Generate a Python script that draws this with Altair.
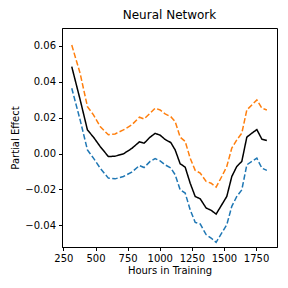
import altair as alt
import pandas as pd

hours = [315, 380, 437, 484, 536, 600, 652, 717, 782, 842, 878, 925, 964, 1003, 1042,
         1086, 1120, 1159, 1198, 1237, 1276, 1315, 1361, 1400, 1439, 1483, 1522, 1561,
         1600, 1639, 1678, 1717, 1756, 1795, 1834]
mean = [0.0483, 0.030, 0.0131, 0.0091, 0.0039, -0.0017, -0.0015, -0.0002, 0.0028, 0.0065,
        0.0057, 0.0091, 0.0112, 0.0102, 0.0078, 0.0061, 0.002, -0.0057, -0.0076, -0.0165,
        -0.0239, -0.0252, -0.0303, -0.0316, -0.0337, -0.0285, -0.0239, -0.0128, -0.0072,
        -0.0044, 0.0091, 0.0113, 0.0133, 0.008, 0.0072]
upper = [0.0603, 0.0446, 0.0261, 0.0215, 0.015, 0.0104, 0.0109, 0.0131, 0.0159, 0.0202,
         0.0192, 0.0224, 0.0252, 0.0242, 0.022, 0.0205, 0.0178, 0.0091, 0.0067, -0.0026,
         -0.0094, -0.0109, -0.0155, -0.0165, -0.0187, -0.0128, -0.0072, 0.003, 0.0076,
         0.0113, 0.0242, 0.027, 0.0298, 0.0252, 0.0242]
lower = [0.0363, 0.0187, 0.002, -0.0026, -0.0081, -0.0137, -0.0141, -0.0128, -0.0104, -0.0067,
         -0.0078, -0.0044, -0.0028, -0.0041, -0.0063, -0.0081, -0.0118, -0.0202, -0.022, -0.0313,
         -0.0383, -0.0392, -0.0451, -0.047, -0.0494, -0.0442, -0.0396, -0.0294, -0.0239,
         -0.0202, -0.0063, -0.0044, -0.0026, -0.0081, -0.0094]

rows = []
for name, vals in [("lower", lower), ("upper", upper), ("mean", mean)]:
    for i, (h, v) in enumerate(zip(hours, vals)):
        rows.append({"hours": h, "effect": v, "series": name, "order": i})
df = pd.DataFrame(rows)

minus = "replace(format(datum.value, '{f}'), '-', '\u2212')"

x = alt.X("hours:Q", scale=alt.Scale(domain=[239, 1913], nice=False, zero=False),
          axis=alt.Axis(values=[250, 500, 750, 1000, 1250, 1500, 1750], title="Hours in Training",
                        labelExpr="format(datum.value, 'd')"))
y = alt.Y("effect:Q", scale=alt.Scale(domain=[-0.052, 0.0698], nice=False, zero=False),
          axis=alt.Axis(values=[-0.04, -0.02, 0.0, 0.02, 0.04, 0.06], title="Partial Effect",
                        labelExpr=minus.format(f=".2f")))

chart = alt.Chart(df).mark_line(strokeWidth=1.5).encode(
    x=x, y=y,
    detail="series:N",
    order="order:Q",
    color=alt.Color("series:N", scale=alt.Scale(domain=["lower", "upper", "mean"],
                                                range=["#1f77b4", "#ff7f0e", "#000000"]), legend=None),
    strokeDash=alt.StrokeDash("series:N", scale=alt.Scale(domain=["lower", "upper", "mean"],
                                                          range=[[5.5, 2.4], [5.5, 2.4], [1, 0]]), legend=None),
).properties(
    width=215, height=219,
    title=alt.TitleParams("Neural Network", fontSize=12, font="DejaVu Sans", fontWeight="normal",
                          color="#000000", offset=6),
    autosize=alt.AutoSizeParams(type="none"),
    padding={"left": 54, "top": 20, "right": 3, "bottom": 33},
).configure_view(stroke="#000000", strokeWidth=1).configure_axis(
    grid=False, domainColor="#000000", tickColor="#000000", tickSize=3.5, labelPadding=3,
    labelFont="DejaVu Sans", labelFontSize=10, labelColor="#000000",
    titleFont="DejaVu Sans", titleFontSize=10, titleFontWeight="normal", titleColor="#000000",
).configure_axisX(titlePadding=2).configure_axisY(titlePadding=4)

chart.save("out.html", embed_options={"renderer": "svg", "actions": False})
